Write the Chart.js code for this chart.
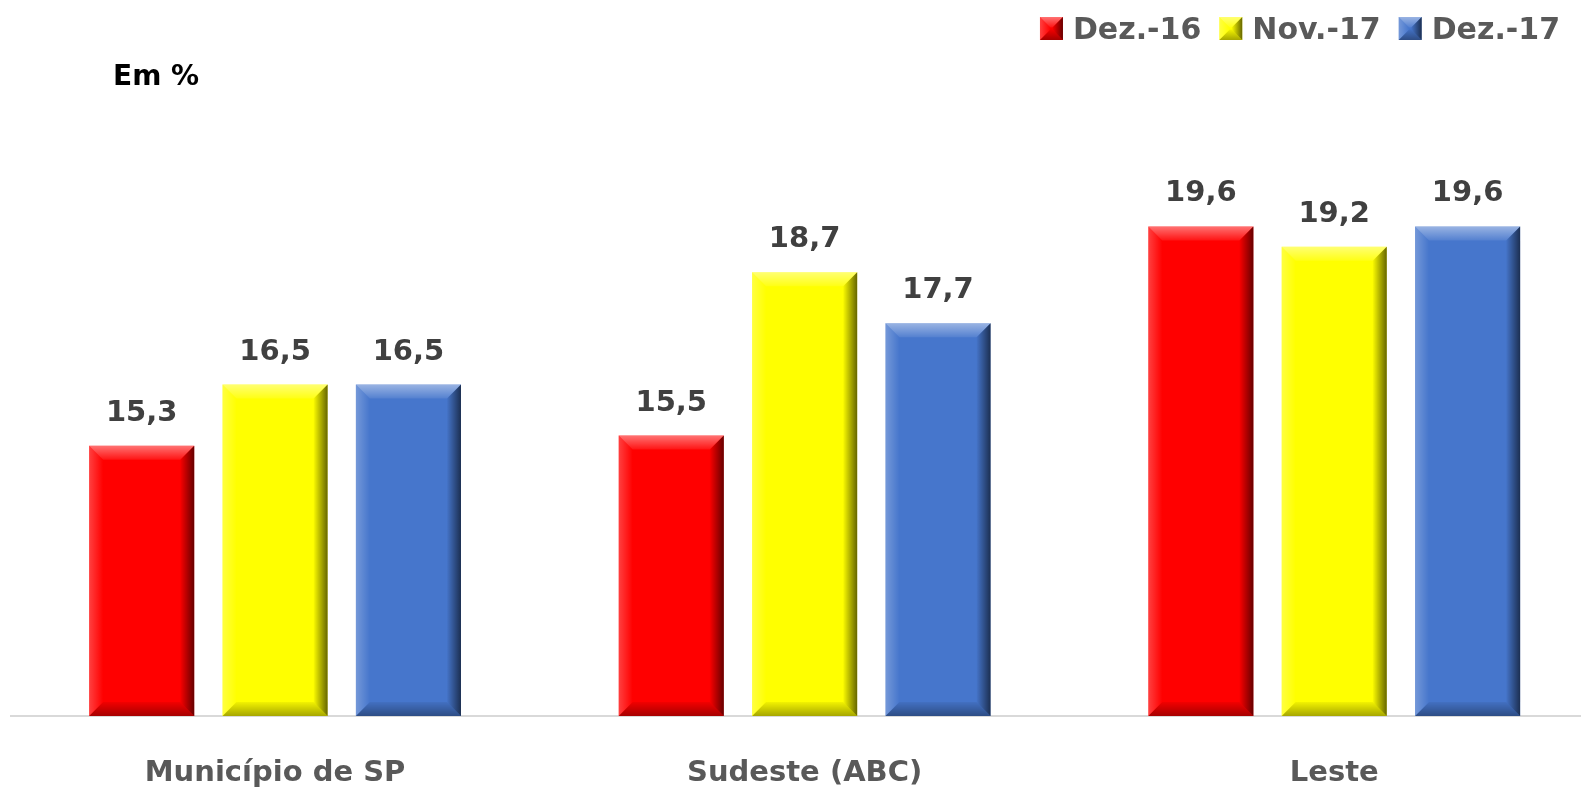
<!DOCTYPE html>
<html>
<head>
<meta charset="utf-8">
<script src="https://cdn.jsdelivr.net/npm/chart.js@4.4.0/dist/chart.umd.min.js"></script>
<style>
  html, body { margin: 0; padding: 0; background: #fff; overflow: hidden; }
  #wrap { width: 1581px; height: 789px; position: relative; }
</style>
</head>
<body>
<div id="wrap"><canvas id="chart"></canvas></div>
<script>
// chart values
const categories = ["Município de SP", "Sudeste (ABC)", "Leste"];
const seriesNames = ["Dez.-16", "Nov.-17", "Dez.-17"];
const dez16 = [15.3, 15.5, 19.6];
const nov17 = [16.5, 18.7, 19.2];
const dez17 = [16.5, 17.7, 19.6];
const seriesColors = ["#FF0000", "#FFFF00", "#4676CC"];
const yMin = 10;
const yMax = 20;

const FONT = "'DejaVu Sans', sans-serif";

function poly(ctx, pts, fill) {
  ctx.beginPath();
  ctx.moveTo(pts[0][0], pts[0][1]);
  for (let i = 1; i < pts.length; i++) ctx.lineTo(pts[i][0], pts[i][1]);
  ctx.closePath();
  ctx.fillStyle = fill;
  ctx.fill();
}

// soft bevel like the office "3D" bar look
function bevel(ctx, l, t, r, b, s) {
  let g = ctx.createLinearGradient(0, t, 0, t + s);
  g.addColorStop(0, "rgba(255,255,255,0.45)");
  g.addColorStop(1, "rgba(255,255,255,0.08)");
  poly(ctx, [[l, t], [r, t], [r - s, t + s], [l + s, t + s]], g);

  g = ctx.createLinearGradient(0, b - s, 0, b);
  g.addColorStop(0, "rgba(0,0,0,0.05)");
  g.addColorStop(1, "rgba(0,0,0,0.35)");
  poly(ctx, [[l, b], [r, b], [r - s, b - s], [l + s, b - s]], g);

  g = ctx.createLinearGradient(l, 0, l + s, 0);
  g.addColorStop(0, "rgba(255,255,255,0.25)");
  g.addColorStop(1, "rgba(255,255,255,0)");
  poly(ctx, [[l, t], [l + s, t + s], [l + s, b - s], [l, b]], g);

  g = ctx.createLinearGradient(r - s, 0, r, 0);
  g.addColorStop(0, "rgba(0,0,0,0.02)");
  g.addColorStop(1, "rgba(0,0,0,0.6)");
  poly(ctx, [[r, t], [r - s, t + s], [r - s, b - s], [r, b]], g);
}

const barDecor = {
  id: "barDecor",
  afterDatasetsDraw(chart) {
    const ctx = chart.ctx;
    const bottom = chart.chartArea.bottom;
    ctx.save();
    chart.data.datasets.forEach((ds, i) => {
      chart.getDatasetMeta(i).data.forEach((el, j) => {
        const l = el.x - el.width / 2, r = el.x + el.width / 2;
        bevel(ctx, l, el.y, r, Math.min(el.base, bottom), 14);
        // value label
        ctx.font = "bold 29px " + FONT;
        ctx.fillStyle = "#404040";
        ctx.textAlign = "center";
        ctx.textBaseline = "alphabetic";
        ctx.fillText(ds.data[j].y.toFixed(1).replace(".", ","), el.x, el.y - 25);
      });
    });
    ctx.restore();
  },
  afterDraw(chart) {
    const ctx = chart.ctx;
    ctx.save();
    // unit note
    ctx.font = "bold 28px " + FONT;
    ctx.fillStyle = "#000";
    ctx.textBaseline = "alphabetic";
    ctx.textAlign = "left";
    ctx.fillText("Em %", 113, 85);
    // legend, right aligned
    ctx.font = "bold 30px " + FONT;
    const box = 23, gap = 10, spacing = 18;
    const widths = seriesNames.map((n) => ctx.measureText(n).width);
    let total = widths.reduce((a, w) => a + w + box + gap, 0) + spacing * (seriesNames.length - 1);
    let x = 1560 - total;
    seriesNames.forEach((n, i) => {
      ctx.fillStyle = seriesColors[i];
      ctx.fillRect(x, 17, box, box);
      bevel(ctx, x, 17, x + box, 17 + box, box / 2 - 1);
      ctx.fillStyle = "#595959";
      ctx.fillText(n, x + box + gap, 39);
      x += box + gap + widths[i] + spacing;
    });
    ctx.restore();
  }
};

const toPoints = (arr) => arr.map((v, i) => ({ x: i, y: v }));

new Chart(document.getElementById("chart"), {
  type: "bar",
  data: {
    datasets: [
      { label: seriesNames[0], data: toPoints(dez16), backgroundColor: seriesColors[0] },
      { label: seriesNames[1], data: toPoints(nov17), backgroundColor: seriesColors[1] },
      { label: seriesNames[2], data: toPoints(dez17), backgroundColor: seriesColors[2] }
    ]
  },
  options: {
    responsive: true,
    maintainAspectRatio: false,
    animation: false,
    layout: { padding: { top: 206, left: 11, right: 0, bottom: 0 } },
    datasets: { bar: { categoryPercentage: 0.7556, barPercentage: 0.788 } },
    plugins: { legend: { display: false }, tooltip: { enabled: false } },
    scales: {
      x: {
        type: "linear",
        min: -0.4986,
        max: 2.466,
        offset: false,
        bounds: "data",
        grid: { display: false, drawTicks: false },
        border: { display: true, color: "#d9d9d9", width: 2 },
        afterBuildTicks: (s) => { s.ticks = categories.map((c, i) => ({ value: i })); },
        ticks: {
          callback: (v) => categories[v],
          font: { family: FONT, weight: "bold", size: 29 },
          color: "#595959",
          padding: 40,
          maxRotation: 0,
          autoSkip: false
        },
        afterFit: (s) => { s.height = 73; }
      },
      y: { display: false, min: yMin, max: yMax }
    }
  },
  plugins: [barDecor]
});
</script>
</body>
</html>
